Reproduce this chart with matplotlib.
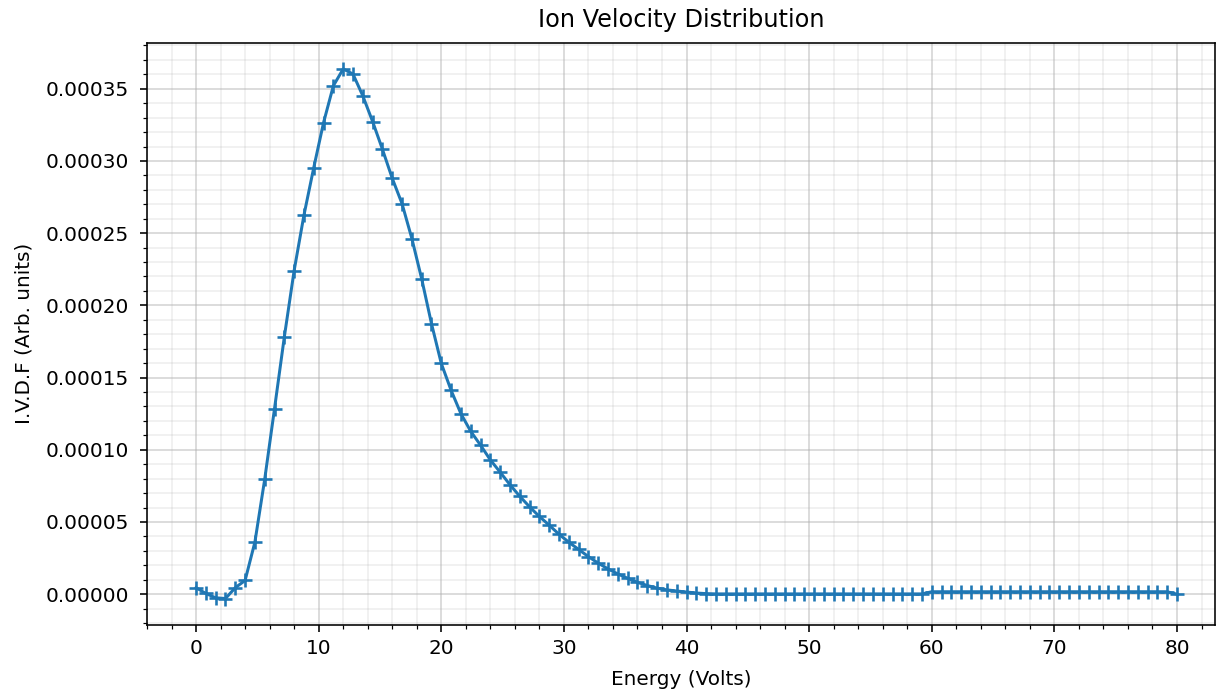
import numpy as np
import matplotlib
matplotlib.use("Agg")
import matplotlib.pyplot as plt

# Energy grid (Volts), 0.8 V steps from 0 to 80
energy = np.round(np.arange(101) * 0.8, 1)

# Ion velocity distribution function (arbitrary units, x1e-5)
ivdf_e5 = [
    0.45, 0.05, -0.25, -0.30, 0.45, 0.95, 3.61, 7.96, 12.85, 17.82,
    22.41, 26.25, 29.54, 32.66, 35.21, 36.37, 36.02, 34.51, 32.73, 30.81,
    28.80, 27.04, 24.63, 21.84, 18.74, 15.98, 14.12, 12.50, 11.28, 10.32,
    9.30, 8.45, 7.58, 6.78, 6.05, 5.38, 4.78, 4.15, 3.60, 3.10,
    2.60, 2.15, 1.75, 1.40, 1.10, 0.82, 0.60, 0.42, 0.30, 0.22,
    0.15, 0.08, 0.04, 0.02, 0.02, 0.02, 0.02, 0.02, 0.02, 0.02,
    0.02, 0.02, 0.02, 0.02, 0.02, 0.02, 0.02, 0.02, 0.02, 0.02,
    0.02, 0.02, 0.02, 0.02, 0.02, 0.17, 0.17, 0.17, 0.17, 0.17,
    0.17, 0.17, 0.17, 0.17, 0.17, 0.17, 0.17, 0.17, 0.17, 0.17,
    0.17, 0.17, 0.17, 0.17, 0.17, 0.17, 0.17, 0.17, 0.17, 0.17,
    0.0,
]
ivdf = np.array(ivdf_e5) * 1e-5

W, H, DPI = 1217, 694, 144
fig = plt.figure(figsize=(W / DPI, H / DPI), dpi=DPI)
ax = fig.add_axes([147 / W, 1 - 625 / H, (1215 - 147) / W, (625 - 42.5) / H])

ax.plot(energy, ivdf, marker="+", color="#1f77b4", linewidth=1.5,
        markersize=7, markeredgewidth=1.3)

ax.set_xlim(-4, 83.1)
ax.minorticks_on()
ax.grid(which="major", color="#b0b0b0", alpha=0.55, linewidth=0.8)
ax.grid(which="minor", color="#b0b0b0", alpha=0.22, linewidth=0.8)
ax.set_axisbelow(True)
ax.tick_params(axis="y", which="major", pad=5.5)

ax.set_title("Ion Velocity Distribution", pad=8)
ax.set_xlabel("Energy (Volts)", labelpad=6)
ax.set_ylabel("I.V.D.F (Arb. units)", labelpad=6)

fig.savefig("out.png", dpi=DPI)
